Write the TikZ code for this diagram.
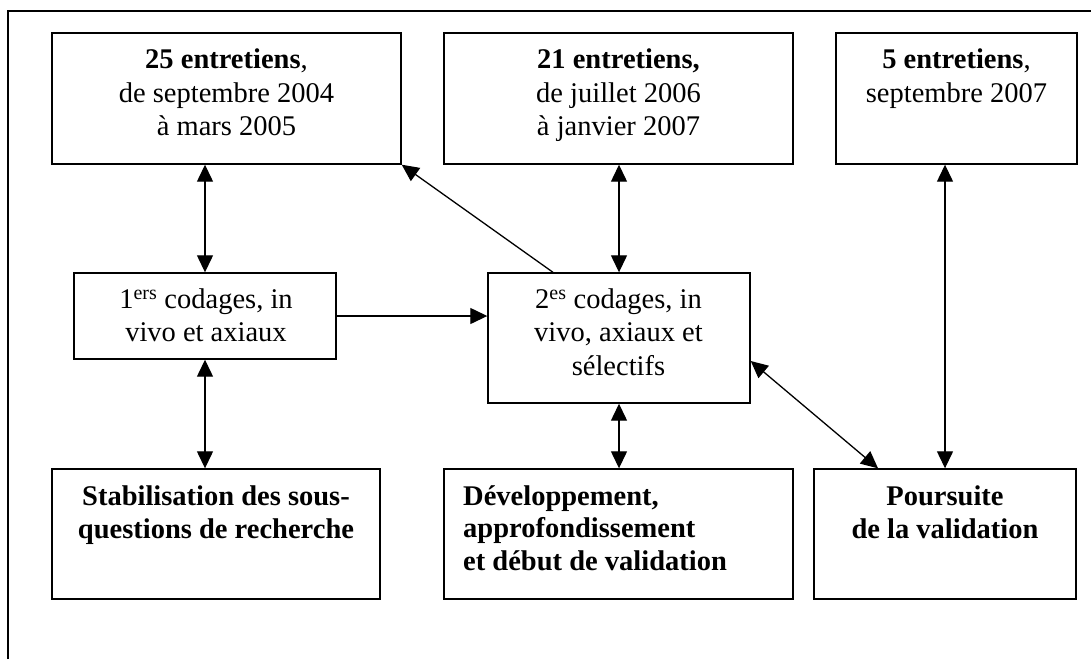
\documentclass[tikz,border=0pt]{standalone}
\usepackage{fontspec}
\setmainfont{Liberation Serif}
\usetikzlibrary{arrows.meta}
\tikzset{
  box/.style={draw, line width=1.4pt, inner sep=0pt, rectangle},
  txt/.style={inner sep=0pt, align=center, font=\fontsize{28.5}{33.5}\selectfont},
  txtl/.style={inner sep=0pt, align=left, font=\fontsize{28.5}{32.5}\selectfont},
  txtb/.style={inner sep=0pt, align=center, font=\fontsize{28.5}{32.5}\selectfont\bfseries},
  conn/.style={line width=1.3pt, {Triangle[length=17pt,width=16pt]}-{Triangle[length=17pt,width=16pt]}},
  conn1/.style={line width=1.3pt, -{Triangle[length=17pt,width=16pt]}},
}
\begin{document}
\begin{tikzpicture}[x=1pt,y=-1pt]
\useasboundingbox[fill=white] (0,0) rectangle (1091,659);
\draw[line width=1.6pt] (8,659) -- (8,11) -- (1091,11);
% boxes
\node[box, minimum width=349pt, minimum height=131pt] (A) at (226.5,98.5) {};
\node[box, minimum width=349pt, minimum height=131pt] (B) at (618.5,98.5) {};
\node[box, minimum width=241pt, minimum height=131pt] (C) at (956.5,98.5) {};
\node[box, minimum width=262pt, minimum height=86pt] (D) at (205,316) {};
\node[box, minimum width=262pt, minimum height=130pt] (E) at (619,338) {};
\node[box, minimum width=328pt, minimum height=130pt] (F) at (216,534) {};
\node[box, minimum width=349pt, minimum height=130pt] (G) at (618.5,534) {};
\node[box, minimum width=262pt, minimum height=130pt] (H) at (945,534) {};
% texts
\node[txt, anchor=north] (tA) at (226.5,48.7) {\textbf{25 entretiens},\\de septembre 2004\\à mars 2005};
\node[txt, anchor=north] (tB) at (618.5,48.7) {\textbf{21 entretiens,}\\de juillet 2006\\à janvier 2007};
\node[txt, anchor=north] (tC) at (956.5,48.7) {\textbf{5 entretiens},\\septembre 2007};
\node[txt, anchor=north] (tD) at (206,288.5) {1\textsuperscript{ers} codages, in\\vivo et axiaux};
\node[txt, anchor=north] (tE) at (618.5,288.5) {2\textsuperscript{es} codages, in\\vivo, axiaux et\\sélectifs};
\node[txtb, anchor=north] (tF) at (216,485.7) {Stabilisation des sous-\\questions de recherche};
\node[txtl, anchor=north west] (tG) at (463,485.2) {\textbf{Développement,}\\\textbf{approfondissement}\\\textbf{et début de validation}};
\node[txtb, anchor=north] (tH) at (945,485.7) {Poursuite\\de la validation};
% connectors
\draw[conn] (D.north) -- (D.north |- A.south);
\draw[conn] (D.south) -- (D.south |- F.north);
\draw[conn] (E.north) -- (E.north |- B.south);
\draw[conn] (E.south) -- (E.south |- G.north);
\draw[conn] (H.north) -- (H.north |- C.south);
\draw[conn1] (D.east) -- (E.west |- D.east);
\draw[conn1] ([xshift=-66pt]E.north) -- (A.south east);
\draw[conn] ([yshift=-23pt]E.east) -- ([xshift=-67pt]H.north);
\end{tikzpicture}
\end{document}
